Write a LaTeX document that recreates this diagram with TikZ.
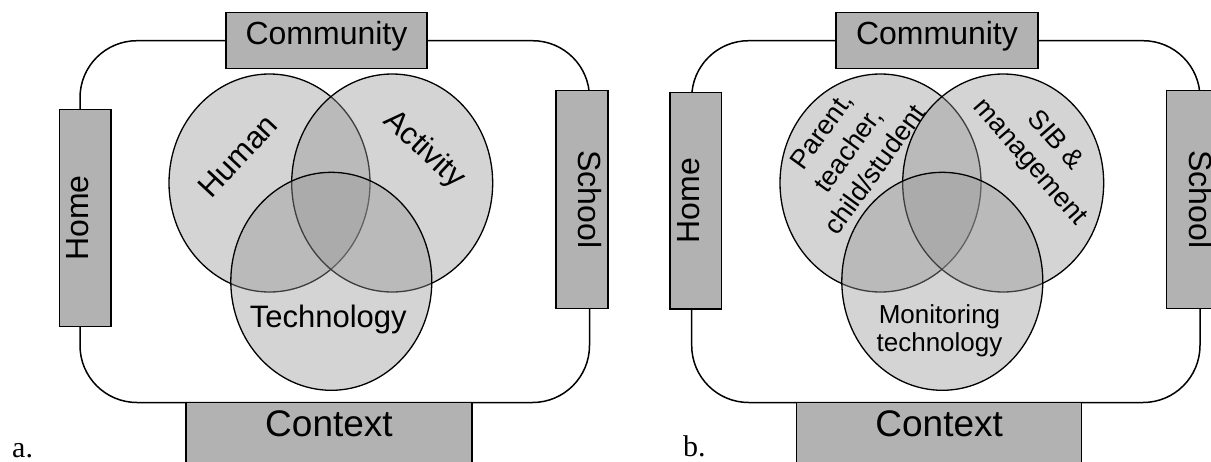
\documentclass[tikz,border=0pt]{standalone}
\usepackage{fontspec}
\setmainfont{Liberation Sans}
\newfontfamily\serifa{Liberation Serif}
\usetikzlibrary{shapes.geometric}
\definecolor{boxgray}{gray}{0.70}
\definecolor{venngray}{gray}{0.59}
\begin{document}
\begin{tikzpicture}[x=1pt,y=-1pt,
  frame/.style={draw=black, line width=1.5pt, rounded corners=57pt},
  box/.style={draw=black, line width=1.5pt, fill=boxgray, inner sep=0pt,
    text height=0.716em, text depth=0pt, align=center},
  venn/.style={ellipse, draw=black, line width=1.3pt, fill=venngray, fill opacity=0.41,
    minimum width=201pt, minimum height=218pt, inner sep=0pt},
  lbl/.style={align=center, inner sep=0pt},
  big/.style={font=\fontsize{32}{38}\selectfont},
  huge/.style={font=\fontsize{37}{44}\selectfont},
  mid/.style={font=\fontsize{31}{36}\selectfont},
  small/.style={font=\fontsize{26}{28}\selectfont},
  smallwide/.style={font=\fontsize{27}{33}\selectfont},
  tag/.style={anchor=base west, inner sep=0pt, font=\serifa\fontsize{30}{36}\selectfont}
]
\useasboundingbox (0,0) rectangle (1211,461);

% ---------- panel a ----------
\coordinate (fA1) at (80,40.7);
\coordinate (fA2) at (589.5,402.5);
\draw[frame] (fA1) rectangle (fA2);

\node[venn] (human) at (269.5,183) {};
\node[venn] (activity) at (392.2,183) {};
\node[venn] (tech) at (331.3,281.3) {};

\node[lbl, mid, rotate=47] (humanT) at (238,156) {Human};
\node[lbl, mid, rotate=-43] (activityT) at (424,150) {Activity};
\node[lbl, mid, anchor=base] (techT) at (328.3,327) {Technology};

\node[box, big, minimum width=201pt, minimum height=55.6pt] (commA) at (326.5,40.5) {Community};
\node[box, big, rotate=90, minimum width=217.4pt, minimum height=51.7pt] (homeA) at (85.2,218) {Home};
\node[box, big, rotate=-90, minimum width=217.6pt, minimum height=52pt] (schoolA) at (582,199.5) {School};
\node[box, huge, minimum width=285.7pt, minimum height=60.4pt] (ctxA) at (329,432.7) {Context};

\node[tag] (tagA) at (12,457) {a.};

% ---------- panel b ----------
\coordinate (fB1) at (691.7,40.7);
\coordinate (fB2) at (1200,402.5);
\draw[frame] (fB1) rectangle (fB2);

\node[venn] (parent) at (880.5,183) {};
\node[venn] (sib) at (1003.2,183) {};
\node[venn] (monit) at (942.3,281.3) {};

\node[lbl, smallwide, rotate=54] (parentT) at (848,150) {Parent,\\teacher,\\child/student};
\node[lbl, smallwide, rotate=-49] (sibT) at (1042,152) {SIB \&\\management};
\node[lbl, small] (monitT) at (939.5,331) {Monitoring\\technology};

\node[box, big, minimum width=202pt, minimum height=55.6pt] (commB) at (937,40.5) {Community};
\node[box, big, rotate=90, minimum width=216.7pt, minimum height=51.7pt] (homeB) at (695.8,200.7) {Home};
\node[box, big, rotate=-90, minimum width=217.6pt, minimum height=52pt] (schoolB) at (1192.7,199.5) {School};
\node[box, huge, minimum width=285pt, minimum height=60.4pt] (ctxB) at (939.2,432.7) {Context};

\node[tag] (tagB) at (683,456.7) {b.};
\end{tikzpicture}
\end{document}
